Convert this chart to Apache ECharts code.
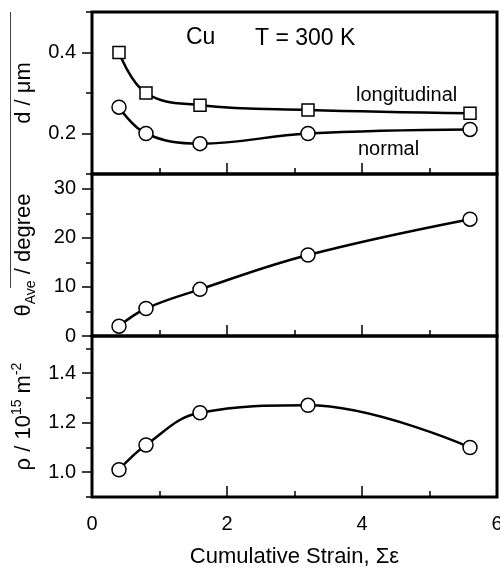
<!DOCTYPE html>
<html><head><meta charset="utf-8">
<script src="https://cdn.jsdelivr.net/npm/echarts@6/dist/echarts.min.js"></script>
<style>html,body{margin:0;padding:0;background:#fff}#c{width:500px;height:569px}</style>
</head><body><div id="c"></div>
<script>
// ---- data ----
const strain = [0.4, 0.8, 1.6, 3.2, 5.6];
const dLongitudinal = [0.40, 0.30, 0.27, 0.258, 0.25];
const dNormal = [0.265, 0.20, 0.175, 0.20, 0.21];
const thetaAve = [2.0, 5.6, 9.5, 16.5, 23.8];
const rho = [1.01, 1.11, 1.24, 1.27, 1.10];
const xTickLabels = [0, 2, 4, 6];
const dTickLabels = [0.2, 0.4];
const dMinorTicks = [0.1, 0.3, 0.5];
const thTickLabels = [0, 10, 20, 30];
const thMinorTicks = [5, 15, 25];
const rhoTickLabels = [1.0, 1.2, 1.4];
const rhoMinorTicks = [0.9, 1.1, 1.3, 1.5];

const FONT = 'Liberation Sans, Arial, sans-serif';
const chart = echarts.init(document.getElementById('c'), null, {renderer: 'canvas'});

const grids = [
  {left: 92, width: 405, top: 12, height: 162},
  {left: 92, width: 405, top: 174, height: 162},
  {left: 92, width: 405, top: 336, height: 161}
].map(g => Object.assign(g, {show: true, borderColor: '#000', borderWidth: 3, backgroundColor: 'transparent',
  containLabel: false, outerBoundsMode: 'none'}));

const subRich = {
  sub: {fontFamily: FONT, fontSize: 14, color: '#000', verticalAlign: 'bottom', lineHeight: 28},
  sup: {fontFamily: FONT, fontSize: 14, color: '#000', verticalAlign: 'top', lineHeight: 28},
  n: {fontFamily: FONT, fontSize: 22, color: '#000', lineHeight: 28}
};

function xAxis(i, labels) {
  return {
    type: 'value', gridIndex: i, min: 0, max: 6, interval: 2,
    axisLine: {show: false},
    axisTick: {show: true, inside: true, length: 11, lineStyle: {color: '#000', width: 1.5}},
    minorTick: {show: true, splitNumber: 2, length: 6, lineStyle: {color: '#000', width: 1.5}},
    splitLine: {show: false}, minorSplitLine: {show: false},
    axisLabel: {show: labels, fontFamily: FONT, fontSize: 20, color: '#000', margin: 17,
      customValues: xTickLabels},
    name: labels ? 'Cumulative Strain, Σε' : '',
    nameLocation: 'middle', nameGap: 49, nameMoveOverlap: false,
    nameTextStyle: {fontFamily: FONT, fontSize: 22, color: '#000'}
  };
}
function yMajor(i, min, max, labels, fmt, name, gap) {
  return {
    type: 'value', gridIndex: i, min: min, max: max, position: 'left',
    axisLine: {show: false},
    axisTick: {show: true, inside: false, length: 10, customValues: labels, lineStyle: {color: '#000', width: 1.5}},
    axisLabel: {show: true, customValues: labels, fontFamily: FONT, fontSize: 20, color: '#000', margin: 16,
      formatter: fmt},
    splitLine: {show: false},
    name: name, nameLocation: 'middle', nameRotate: 90, nameGap: gap, nameMoveOverlap: false,
    nameTextStyle: {fontFamily: FONT, fontSize: 22, color: '#000', rich: subRich}
  };
}
function yMinor(i, min, max, ticks) {
  return {
    type: 'value', gridIndex: i, min: min, max: max, position: 'left',
    axisLine: {show: false},
    axisTick: {show: true, inside: false, length: 6, customValues: ticks, lineStyle: {color: '#000', width: 1.5}},
    axisLabel: {show: false}, splitLine: {show: false}
  };
}

function lineSeries(x, y, data, sym, size, sm) {
  return {
    type: 'line', xAxisIndex: x, yAxisIndex: y,
    data: strain.map((s, k) => [s, data[k]]),
    smooth: sm, symbol: sym, symbolSize: size, showSymbol: true,
    lineStyle: {color: '#000', width: 2.5},
    itemStyle: {color: '#fff', borderColor: '#000', borderWidth: 1.5},
    z: 3, animation: false
  };
}

const option = {
  animation: false,
  backgroundColor: '#fff',
  grid: grids,
  xAxis: [xAxis(0, false), xAxis(1, false), xAxis(2, true)],
  yAxis: [
    yMajor(0, 0.1, 0.5, dTickLabels, v => v.toFixed(1), '{n|d / μm}', 54),
    yMinor(0, 0.1, 0.5, dMinorTicks),
    yMajor(1, 0, 33, thTickLabels, v => String(v), '{n|θ}{sub|Ave}{n| / degree}', 54),
    yMinor(1, 0, 33, thMinorTicks),
    yMajor(2, 0.9, 1.55, rhoTickLabels, v => v.toFixed(1), '{n|ρ / 10}{sup|15}{n| m}{sup|-2}', 54),
    yMinor(2, 0.9, 1.55, rhoMinorTicks)
  ],
  series: [
    lineSeries(0, 0, dLongitudinal, 'rect', 12, 0.4),
    lineSeries(0, 0, dNormal, 'circle', 14, 0.4),
    lineSeries(1, 2, thetaAve, 'circle', 14, 0.4),
    lineSeries(2, 4, rho, 'circle', 14, 0.4)
  ],
  graphic: [
    {type: 'text', left: 186, top: 26, style: {text: 'Cu', fontFamily: FONT, fontSize: 23, fill: '#000'}},
    {type: 'text', left: 255, top: 27, style: {text: 'T = 300 K', fontFamily: FONT, fontSize: 23, fill: '#000'}},
    {type: 'text', left: 356, top: 85, style: {text: 'longitudinal', fontFamily: FONT, fontSize: 20, fill: '#000'}},
    {type: 'text', left: 358, top: 139, style: {text: 'normal', fontFamily: FONT, fontSize: 20, fill: '#000'}},
    {type: 'line', shape: {x1: 10.5, y1: 12, x2: 10.5, y2: 288}, style: {stroke: '#444', lineWidth: 1}}
  ]
};
chart.setOption(option);
</script>
</body></html>
